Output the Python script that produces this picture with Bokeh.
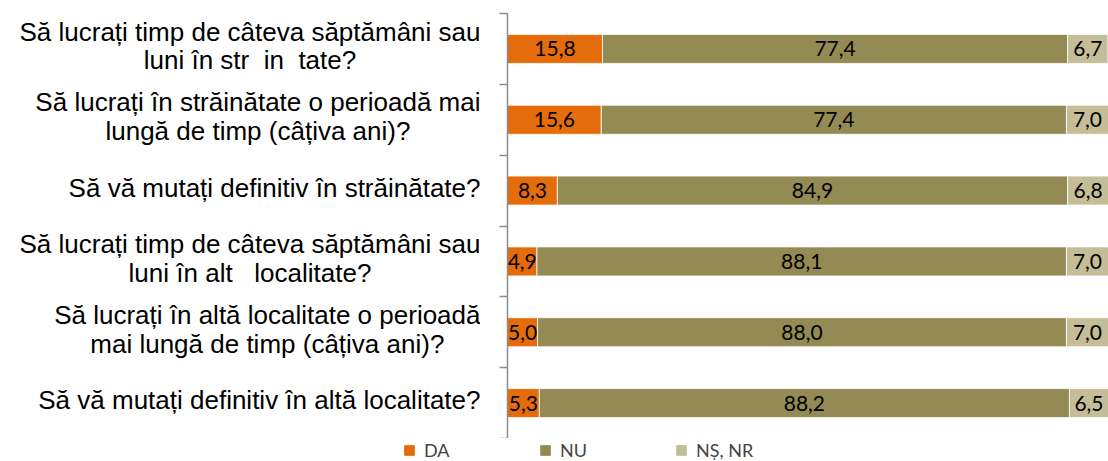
from bokeh.plotting import figure
from bokeh.models import Range1d, FixedTicker, Legend, LegendItem, ColumnDataSource
from bokeh.layouts import row, column
from bokeh.embed import file_html
from bokeh.resources import INLINE
from bokeh.core.properties import value
import numpy as np

NB = "\u00a0"
categories = [
    "Să lucrați timp de câteva săptămâni sau\nluni în str" + NB * 2 + "in" + NB * 2 + "tate?",
    "Să lucrați în străinătate o perioadă mai\nlungă de timp (câțiva ani)?",
    "Să vă mutați definitiv în străinătate?",
    "Să lucrați timp de câteva săptămâni sau\nluni în alt" + NB * 3 + "localitate?",
    "Să lucrați în altă localitate o perioadă\nmai lungă de timp (câțiva ani)?",
    "Să vă mutați definitiv în altă localitate?",
]
series_names = ["DA", "NU", "NȘ, NR"]
da = [15.8, 15.6, 8.3, 4.9, 5.0, 5.3]
nu = [77.4, 77.4, 84.9, 88.1, 88.0, 88.2]
ns = [6.7, 7.0, 6.8, 7.0, 7.0, 6.5]
colors = ["#E46C0A", "#948A54", "#C4BD97"]

n = len(categories)
ys = np.arange(n) + 0.5
TOTAL_W = 1108
H = 438
LW = 480

src = ColumnDataSource(dict(y=ys, da=da, nu=nu, ns=ns))

bars = figure(width=TOTAL_W - LW, height=H, x_range=Range1d(0, 100), y_range=Range1d(n, 0),
              x_axis_location=None, output_backend="svg", toolbar_location=None,
              min_border_left=27, min_border_right=0, min_border_top=13, min_border_bottom=0,
              outline_line_color=None)
bars.grid.visible = False
rs = bars.hbar_stack(["da", "nu", "ns"], y="y", height=0.41, color=colors, source=src,
                     line_color="white", line_width=0.8)

ax = bars.yaxis[0]
ax.ticker = FixedTicker(ticks=list(range(n + 1)))
ax.major_label_overrides = {i: "" for i in range(n + 1)}
ax.major_label_standoff = 0
ax.major_tick_in = 0
ax.major_tick_out = 8
ax.minor_tick_out = 0
ax.minor_tick_in = 0
ax.axis_line_color = "#8c8c8c"
ax.axis_line_width = 1.5
ax.major_tick_line_color = "#8c8c8c"
ax.major_tick_line_width = 1.5

# segment labels
vals = np.array([da, nu, ns])
lefts = np.vstack([np.zeros(n), np.cumsum(vals, axis=0)[:-1]])
lx, ly, lt = [], [], []
for k in range(3):
    for i in range(n):
        lx.append(lefts[k][i] + vals[k][i] / 2)
        ly.append(ys[i])
        lt.append(f"{vals[k][i]:.1f}".replace(".", ","))
bars.text(x=lx, y=ly, text=lt, text_align="center", text_baseline="middle",
          text_font=value("Lato"), text_font_size="21px", text_color="black")

lab = figure(width=LW, height=H, x_range=Range1d(0, 1), y_range=Range1d(n, 0),
             x_axis_location=None, y_axis_location=None, output_backend="svg",
             toolbar_location=None, min_border_left=0, min_border_right=0,
             min_border_top=13, min_border_bottom=0, outline_line_color=None)
lab.grid.visible = False
lab.text(x=[1] * n, y=ys, text=categories, anchor=value("center_right"), text_align="center",
         text_baseline="middle", text_font=value("Liberation Sans"), text_font_size="26px",
         text_line_height=0.96, text_color="black", y_offset=-3)

# legend strip
leg = figure(width=TOTAL_W, height=23, x_range=Range1d(0, 1), y_range=Range1d(0, 1),
             x_axis_location=None, y_axis_location=None, output_backend="svg",
             toolbar_location=None, min_border=0, outline_line_color=None)
leg.grid.visible = False
lrs = [leg.rect(x=[-5], y=[-5], width=1, height=1, color=colors[k]) for k in range(3)]
legend = Legend(items=[LegendItem(label=series_names[k], renderers=[lrs[k]]) for k in range(3)],
                orientation="horizontal", location=(403, 0),
                glyph_width=12, glyph_height=12, label_standoff=9, label_width=100,
                spacing=15, padding=0, margin=0, border_line_color=None,
                background_fill_alpha=0, label_text_font="Lato", label_text_font_size="18px",
                label_height=14)
leg.add_layout(legend)

p = column(row(lab, bars), leg)
open("out.html", "w").write(file_html(p, INLINE))
